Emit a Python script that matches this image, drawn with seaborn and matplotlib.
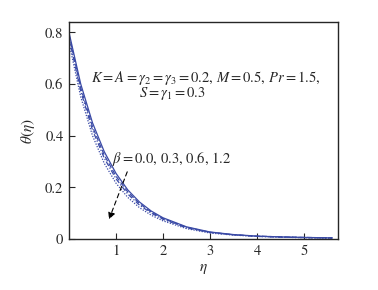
import numpy as np
import pandas as pd
import matplotlib
matplotlib.use("Agg")
import matplotlib.pyplot as plt
import seaborn as sns

eta = [0.0, 0.25, 0.5, 0.75, 1.0, 1.25, 1.5, 1.75, 2.0, 2.5, 3.0, 3.5, 4.0, 4.5, 5.0, 5.6]
theta_b00 = [0.800, 0.600, 0.450, 0.338, 0.254, 0.190, 0.143, 0.108, 0.082, 0.047, 0.027, 0.017, 0.011, 0.008, 0.006, 0.004]
theta_b03 = [0.790, 0.585, 0.435, 0.325, 0.243, 0.182, 0.137, 0.104, 0.079, 0.045, 0.026, 0.016, 0.011, 0.008, 0.006, 0.004]
theta_b06 = [0.780, 0.572, 0.422, 0.313, 0.233, 0.174, 0.131, 0.100, 0.076, 0.043, 0.025, 0.016, 0.010, 0.007, 0.005, 0.004]
theta_b12 = [0.760, 0.550, 0.400, 0.293, 0.216, 0.161, 0.121, 0.092, 0.070, 0.040, 0.023, 0.015, 0.010, 0.007, 0.005, 0.003]
betas = ["0.0", "0.3", "0.6", "1.2"]
series = [theta_b00, theta_b03, theta_b06, theta_b12]

df = pd.concat([pd.DataFrame({"eta": eta, "theta": s, "beta": b}) for s, b in zip(series, betas)])

sns.set_style("ticks")
plt.rcParams['font.family'] = ['STIXGeneral', 'DejaVu Serif']
plt.rcParams['mathtext.fontset'] = 'stix'

fig = plt.figure(figsize=(3.78, 2.90), dpi=100)
ax = fig.add_axes([0.1825, 0.176, 0.7115, 0.748])

color = "#3a4aa6"
sns.lineplot(data=df, x="eta", y="theta", style="beta", ax=ax, color=color,
             dashes={"0.0": "", "0.3": (4, 2), "0.6": (4, 1.5, 1, 1.5), "1.2": (1, 1.2)},
             linewidth=0.9, legend=False)

ax.set_xlim(0, 5.72)
ax.set_ylim(0, 0.84)
ax.set_xticks([1, 2, 3, 4, 5])
ax.set_yticks([0, 0.2, 0.4, 0.6, 0.8])
ax.set_yticklabels(["0", "0.2", "0.4", "0.6", "0.8"])
ax.tick_params(direction="in", length=4, width=0.8, labelsize=10.5, pad=4)
for sp in ax.spines.values():
    sp.set_linewidth(1.0)
    sp.set_visible(True)

ax.set_xlabel(r"$\eta$", fontsize=11, labelpad=3)
ax.set_ylabel(r"$\theta(\eta)$", fontsize=11, labelpad=6)

ax.text(2.91, 0.625, r"$K=A=\gamma_2=\gamma_3=0.2,\,M=0.5,\,Pr=1.5,$", fontsize=10.5,
        ha="center", va="center")
ax.text(2.2, 0.563, r"$S=\gamma_1=0.3$", fontsize=10.5, ha="center", va="center")
ax.text(0.91, 0.31, r"$\beta=0.0,\,0.3,\,0.6,\,1.2$", fontsize=10.5, ha="left", va="center")

ax.annotate("", xy=(0.83, 0.066), xytext=(1.26, 0.27),
            arrowprops=dict(arrowstyle="-|>", linestyle=(0, (4, 3)), color="black",
                            lw=0.8, mutation_scale=10))

fig.savefig("out.png", dpi=100)
